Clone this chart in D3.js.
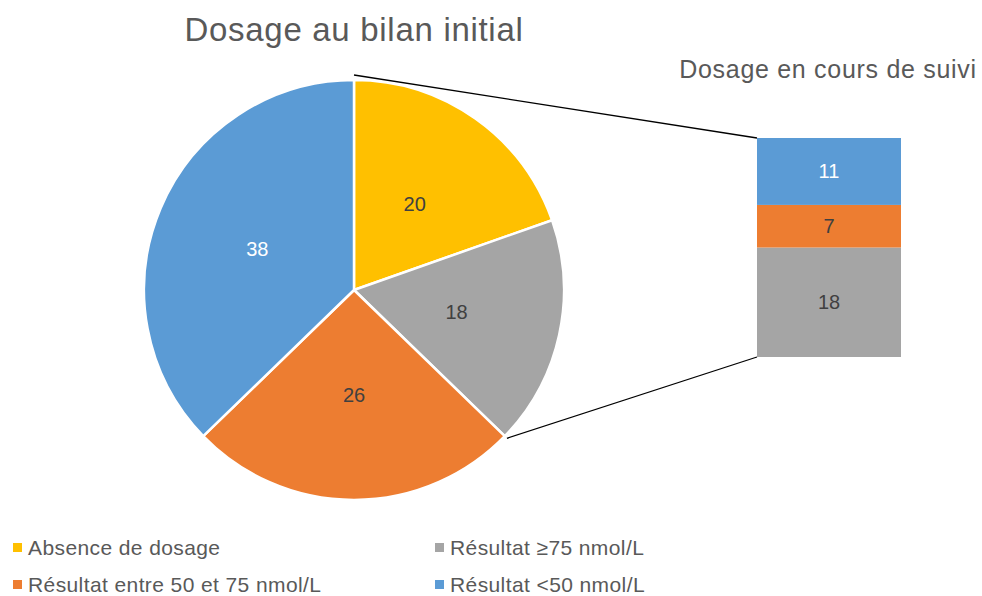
<!DOCTYPE html>
<html>
<head>
<meta charset="utf-8">
<script src="https://cdn.jsdelivr.net/npm/d3@7"></script>
<style>
  body { margin: 0; background: #fff; }
  svg { font-family: "Liberation Sans", Arial, sans-serif; }
</style>
</head>
<body>
<div id="chart"></div>
<script>
var width = 982,
    height = 596;

// pie data (clockwise from 12 o'clock)
var pieLabels = ["Absence de dosage", "Résultat ≥75 nmol/L", "Résultat entre 50 et 75 nmol/L", "Résultat <50 nmol/L"];
var pieValues = [20, 18, 26, 38];
var pieColors = ["#FFC000", "#A5A5A5", "#ED7D31", "#5B9BD5"];
var pieTextColors = ["#404040", "#404040", "#404040", "#ffffff"];

// secondary bar, bottom to top
var barValues = [18, 7, 11];
var barColors = ["#A5A5A5", "#ED7D31", "#5B9BD5"];
var barTextColors = ["#404040", "#404040", "#ffffff"];

// legend order (row by row)
var legendOrder = [0, 1, 2, 3];

var cx = 354, cy = 290, radius = 210;

var svg = d3.select("#chart").append("svg")
    .attr("width", width)
    .attr("height", height);

svg.append("text")
    .attr("x", cx)
    .attr("y", 41)
    .attr("text-anchor", "middle")
    .attr("fill", "#595959")
    .style("font-size", "33px")
    .style("letter-spacing", "0.7px")
    .text("Dosage au bilan initial");

svg.append("text")
    .attr("x", 828)
    .attr("y", 78)
    .attr("text-anchor", "middle")
    .attr("fill", "#595959")
    .style("font-size", "25px")
    .style("letter-spacing", "0.7px")
    .text("Dosage en cours de suivi");

var pie = d3.pie().sort(null).value(d => d);
var arcs = pie(pieValues);

var arc = d3.arc().innerRadius(0).outerRadius(radius);
var labelArc = d3.arc().innerRadius(radius / 2).outerRadius(radius / 2);

var pg = svg.append("g")
    .attr("transform", "translate(" + cx + "," + cy + ")");

pg.selectAll("path")
    .data(arcs)
  .enter().append("path")
    .attr("d", arc)
    .attr("fill", (d, i) => pieColors[i])
    .attr("stroke", "#fff")
    .attr("stroke-width", 2.5)
    .attr("stroke-linejoin", "round");

pg.selectAll("text")
    .data(arcs)
  .enter().append("text")
    .attr("transform", d => "translate(" + labelArc.centroid(d) + ")")
    .attr("text-anchor", "middle")
    .attr("dy", "0.35em")
    .attr("fill", (d, i) => pieTextColors[i])
    .style("font-size", "20px")
    .text(d => d.value);

// bar of pie
var barX = 757, barW = 144;
var yBar = d3.scaleLinear()
    .domain([0, d3.sum(barValues)])
    .range([357, 138]);

var stacked = [];
var acc = 0;
barValues.forEach(function(v, i) {
  stacked.push({v: v, y0: acc, y1: acc + v, i: i});
  acc += v;
});

var bg = svg.append("g");
bg.selectAll("rect")
    .data(stacked)
  .enter().append("rect")
    .attr("x", barX)
    .attr("width", barW)
    .attr("y", d => yBar(d.y1))
    .attr("height", d => yBar(d.y0) - yBar(d.y1))
    .attr("fill", d => barColors[d.i]);

bg.selectAll("text")
    .data(stacked)
  .enter().append("text")
    .attr("x", barX + barW / 2)
    .attr("y", d => (yBar(d.y0) + yBar(d.y1)) / 2)
    .attr("dy", "0.35em")
    .attr("text-anchor", "middle")
    .attr("fill", d => barTextColors[d.i])
    .style("font-size", "20px")
    .text(d => d.v);

// connector lines from the split slice to the bar
var split = arcs[1];
function edgePoint(a, r) {
  return [cx + r * Math.sin(a), cy - r * Math.cos(a)];
}
var pTop = edgePoint(0, radius + 5);
var pBot = edgePoint(split.endAngle, radius + 3);

svg.append("line")
    .attr("x1", pTop[0]).attr("y1", pTop[1])
    .attr("x2", barX).attr("y2", yBar(d3.sum(barValues)))
    .attr("stroke", "#000").attr("stroke-width", 1.3);

svg.append("line")
    .attr("x1", pBot[0]).attr("y1", pBot[1])
    .attr("x2", barX).attr("y2", yBar(0))
    .attr("stroke", "#000").attr("stroke-width", 1.3);

// legend
var legendPos = [[13, 548], [435, 548], [13, 585], [435, 585]];
var lg = svg.selectAll(".legend")
    .data(legendOrder)
  .enter().append("g")
    .attr("class", "legend")
    .attr("transform", (d, i) => "translate(" + legendPos[i][0] + "," + legendPos[i][1] + ")");

lg.append("rect")
    .attr("x", 0)
    .attr("y", -5)
    .attr("width", 9)
    .attr("height", 9)
    .attr("fill", d => pieColors[d]);

lg.append("text")
    .attr("x", 15)
    .attr("y", 0)
    .attr("dy", "0.35em")
    .attr("fill", "#595959")
    .style("font-size", "21px")
    .style("letter-spacing", "0.4px")
    .text(d => pieLabels[d]);
</script>
</body>
</html>
